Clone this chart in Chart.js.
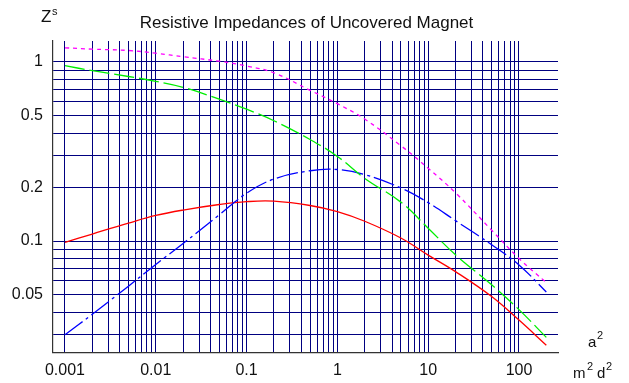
<!DOCTYPE html>
<html>
<head>
<meta charset="utf-8">
<script src="https://cdn.jsdelivr.net/npm/chart.js@4/dist/chart.umd.min.js"></script>
<style>
  html, body { margin: 0; padding: 0; background: #fff; }
  #wrap { width: 629px; height: 383px; position: relative; }
</style>
</head>
<body>
<div id="wrap"><canvas id="magnetChart" width="629" height="383"></canvas></div>
<script>
// a^2 / (m^2 d^2)
var xValues = [0.001, 0.002, 0.005, 0.01, 0.02, 0.05, 0.1, 0.2, 0.5, 1, 2, 5, 10, 20, 50, 100, 200];

// Z^s curves
var magentaValues = [1.20, 1.18, 1.16, 1.12, 1.07, 1.01, 0.95, 0.87, 0.695, 0.585, 0.48, 0.341, 0.255, 0.186, 0.115, 0.080, 0.0586];
var greenValues   = [0.954, 0.894, 0.83, 0.78, 0.722, 0.62, 0.545, 0.47, 0.369, 0.297, 0.224, 0.165, 0.118, 0.0838, 0.057, 0.0414, 0.029];
var blueValues    = [0.030, 0.039, 0.056, 0.074, 0.097, 0.14, 0.185, 0.222, 0.247, 0.251, 0.235, 0.198, 0.164, 0.130, 0.0954, 0.0736, 0.052];
var redValues     = [0.0984, 0.1095, 0.126, 0.139, 0.149, 0.160, 0.166, 0.167, 0.158, 0.146, 0.129, 0.104, 0.0835, 0.0675, 0.049, 0.0362, 0.0262];

var xLabelValues = [0.001, 0.01, 0.1, 1, 10, 100];
var xTickLabels  = ['0.001', '0.01', '0.1', '1', '10', '100'];
var yLabelValues = [0.05, 0.1, 0.2, 0.5, 1];
var yTickLabels  = ['0.05', '0.1', '0.2', '0.5', '1'];

var chartTitle = 'Resistive Impedances of Uncovered Magnet';

var FONT = '"Liberation Sans", Arial, sans-serif';

/* grid positions: 1..9 times each decade */
function decadeTicks(fromDec, toDec, lo, hi) {
    var out = [];
    for (var d = fromDec; d <= toDec; d++) {
        for (var m = 1; m <= 9; m++) {
            var v = Number((m * Math.pow(10, d)).toPrecision(3));
            if (v >= lo && v <= hi) out.push(v);
        }
    }
    return out;
}
var xGrid = decadeTicks(-3, 2, 0.001, 100);
var yGrid = decadeTicks(-2, 0, 0.03, 1);

function toPoints(ys) {
    var pts = [];
    for (var i = 0; i < xValues.length; ++i) {
        pts.push({ x: xValues[i], y: ys[i] });
    }
    return pts;
}

function labelFor(values, labels, v) {
    for (var i = 0; i < values.length; ++i) {
        if (Math.abs(values[i] - v) < values[i] * 1e-6) return labels[i];
    }
    return '';
}

/* title, Z^s and axis name drawn on top */
var textPlugin = {
    id: 'textPlugin',
    afterDraw: function (chart) {
        var ctx = chart.ctx;
        var area = chart.chartArea;
        ctx.save();
        ctx.fillStyle = '#111';
        ctx.textBaseline = 'alphabetic';

        ctx.font = '17px ' + FONT;
        ctx.textAlign = 'center';
        ctx.fillText(chartTitle, (area.left + area.right) / 2 + 1, 28);

        // Z^s
        ctx.textAlign = 'left';
        ctx.font = '17px ' + FONT;
        ctx.fillText('Z', 41, 22);
        ctx.font = '11px ' + FONT;
        ctx.fillText('s', 52, 15);

        // a^2 over m^2 d^2
        ctx.font = '15px ' + FONT;
        ctx.fillText('a', 588, 347);
        ctx.font = '11px ' + FONT;
        ctx.fillText('2', 597, 339);
        ctx.font = '15px ' + FONT;
        ctx.fillText('m', 573, 378);
        ctx.font = '11px ' + FONT;
        ctx.fillText('2', 587, 370);
        ctx.font = '15px ' + FONT;
        ctx.fillText('d', 597, 378);
        ctx.font = '11px ' + FONT;
        ctx.fillText('2', 606, 370);
        ctx.restore();
    }
};

var ctx = document.getElementById('magnetChart');
var magnetChart = new Chart(ctx, {
    type: 'line',
    data: {
        datasets: [{
            label: 'magenta',
            data: toPoints(magentaValues),
            borderColor: '#ff00ff',
            borderWidth: 1.3,
            borderDash: [4, 4]
        }, {
            label: 'green',
            data: toPoints(greenValues),
            borderColor: '#00ee00',
            borderWidth: 1.3,
            borderDash: [20, 5]
        }, {
            label: 'blue',
            data: toPoints(blueValues),
            borderColor: '#0000ff',
            borderWidth: 1.3,
            borderDash: [22, 4, 3, 4]
        }, {
            label: 'red',
            data: toPoints(redValues),
            borderColor: '#ff0000',
            borderWidth: 1.3
        }]
    },
    options: {
        responsive: false,
        animation: false,
        devicePixelRatio: 1,
        elements: { point: { radius: 0 }, line: { tension: 0.4 } },
        layout: { padding: { top: 41, right: 71, left: 0, bottom: 0 } },
        plugins: {
            legend: { display: false },
            title: { display: false },
            tooltip: { enabled: false }
        },
        scales: {
            x: {
                type: 'logarithmic',
                min: 0.000738,
                max: 269,
                afterBuildTicks: function (scale) {
                    scale.ticks = xGrid.map(function (v) { return { value: v }; });
                },
                afterFit: function (scale) { scale.height = 30.3; },
                grid: { color: '#000080', lineWidth: 1, drawTicks: false },
                border: { color: '#333', width: 1.2 },
                ticks: {
                    autoSkip: false,
                    maxRotation: 0,
                    padding: 8,
                    color: '#111',
                    font: { family: FONT, size: 16 },
                    callback: function (v) { return labelFor(xLabelValues, xTickLabels, v); }
                }
            },
            y: {
                type: 'logarithmic',
                min: 0.0238,
                max: 1.31,
                afterBuildTicks: function (scale) {
                    scale.ticks = yGrid.map(function (v) { return { value: v }; });
                },
                afterFit: function (scale) { scale.width = 53; },
                grid: { color: '#000080', lineWidth: 1, drawTicks: false },
                border: { color: '#333', width: 1.2 },
                ticks: {
                    autoSkip: false,
                    padding: 10,
                    color: '#111',
                    font: { family: FONT, size: 16 },
                    callback: function (v) { return labelFor(yLabelValues, yTickLabels, v); }
                }
            }
        }
    },
    plugins: [textPlugin]
});
</script>
</body>
</html>
